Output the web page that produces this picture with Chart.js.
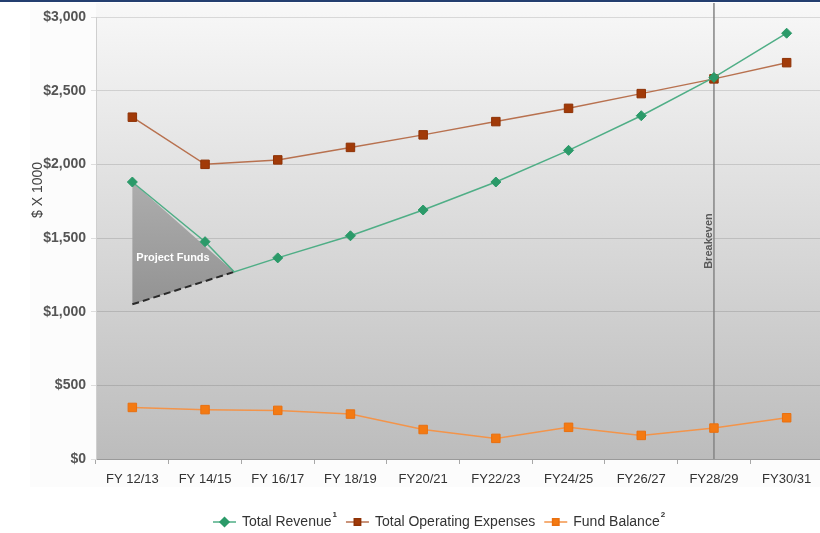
<!DOCTYPE html>
<html>
<head>
<meta charset="utf-8">
<script src="https://cdn.jsdelivr.net/npm/chart.js@4.4.1/dist/chart.umd.min.js"></script>
<style>
html, body { margin: 0; padding: 0; background: #fff; overflow: hidden; }
#wrap { width: 830px; height: 533px; }
</style>
</head>
<body>
<div id="wrap"><canvas id="fundChart" width="830" height="533"></canvas></div>
<script>
const categories = ["FY 12/13", "FY 14/15", "FY 16/17", "FY 18/19", "FY20/21", "FY22/23", "FY24/25", "FY26/27", "FY28/29", "FY30/31"];
const revenue = [1880, 1475, 1365, 1515, 1690, 1880, 2095, 2330, 2590, 2890];
const expenses = [2320, 2000, 2030, 2115, 2200, 2290, 2380, 2480, 2580, 2690];
const fundBalance = [350, 335, 330, 305, 200, 140, 215, 160, 210, 280];
const projectFundsX = [0, 1.4, 0];
const projectFundsY = [1880, 1270, 1050];
const breakevenIndex = 8;
const yTicks = [0, 500, 1000, 1500, 2000, 2500, 3000];
const legendSup = ["1", "", "2"];

Chart.defaults.font.family = "'Liberation Sans', Arial, sans-serif";

// revenue line bends at the tip of the project funds triangle
const revenuePoints = categories.map((c, i) => ({ x: i, y: revenue[i] }));
revenuePoints.splice(2, 0, { x: projectFundsX[1], y: projectFundsY[1], apex: true });

const decorations = {
    id: "decorations",
    beforeDraw(chart) {
        const { ctx, chartArea } = chart;
        ctx.save();
        ctx.fillStyle = "#ffffff";
        ctx.fillRect(0, 0, chart.width, chart.height);
        ctx.fillStyle = "#fcfcfc";
        ctx.fillRect(30, 3, chart.width - 30, 484);
        const g = ctx.createLinearGradient(0, 3, 0, chartArea.bottom);
        g.addColorStop(0, "#f8f8f8");
        g.addColorStop(1, "#bcbcbc");
        ctx.fillStyle = g;
        ctx.fillRect(chartArea.left, 3, chart.width - chartArea.left, chartArea.bottom - 3);
        ctx.restore();
    },
    beforeDatasetsDraw(chart) {
        const { ctx, chartArea } = chart;
        const xs = chart.scales.xv, ys = chart.scales.y;
        ctx.save();

        // breakeven marker
        const bx = xs.getPixelForValue(breakevenIndex);
        ctx.strokeStyle = "#858585";
        ctx.lineWidth = 1.5;
        ctx.beginPath();
        ctx.moveTo(bx, 3);
        ctx.lineTo(bx, chartArea.bottom);
        ctx.stroke();
        ctx.translate(bx - 5, (chartArea.top + chartArea.bottom) / 2 + 3);
        ctx.rotate(-Math.PI / 2);
        ctx.fillStyle = "#5a5a5a";
        ctx.font = "bold 11px 'Liberation Sans', Arial";
        ctx.textAlign = "center";
        ctx.textBaseline = "middle";
        ctx.fillText("Breakeven", 0, 0);
        ctx.restore();

        // project funds triangle
        const pts = projectFundsX.map((v, i) => [xs.getPixelForValue(v), ys.getPixelForValue(projectFundsY[i])]);
        ctx.save();
        const tg = ctx.createLinearGradient(0, pts[0][1], 0, pts[2][1]);
        tg.addColorStop(0, "#adadad");
        tg.addColorStop(1, "#939393");
        ctx.fillStyle = tg;
        ctx.beginPath();
        ctx.moveTo(pts[0][0], pts[0][1]);
        ctx.lineTo(pts[1][0], pts[1][1]);
        ctx.lineTo(pts[2][0], pts[2][1]);
        ctx.closePath();
        ctx.fill();
        ctx.setLineDash([7, 4]);
        ctx.strokeStyle = "#2a2a2a";
        ctx.lineWidth = 2;
        ctx.beginPath();
        ctx.moveTo(pts[2][0], pts[2][1]);
        ctx.lineTo(pts[1][0], pts[1][1]);
        ctx.stroke();
        ctx.fillStyle = "#ffffff";
        ctx.font = "bold 11px 'Liberation Sans', Arial";
        ctx.textBaseline = "middle";
        ctx.fillText("Project Funds", pts[0][0] + 4, pts[0][1] + 0.62 * (pts[2][1] - pts[0][1]));
        ctx.restore();
    },
    afterDraw(chart) {
        const { ctx } = chart;
        ctx.save();

        // frame line on top
        ctx.fillStyle = "#243f70";
        ctx.fillRect(0, 0, chart.width, 2);

        // axis title
        ctx.save();
        ctx.translate(38, 190);
        ctx.rotate(-Math.PI / 2);
        ctx.fillStyle = "#444";
        ctx.font = "14px 'Liberation Sans', Arial";
        ctx.textAlign = "center";
        ctx.textBaseline = "middle";
        ctx.fillText("$ X 1000", 0, 0);
        ctx.restore();

        // legend: line + marker, label, superscript
        let x = 213;
        const y = 522;
        ctx.textBaseline = "middle";
        chart.data.datasets.forEach((ds, i) => {
            ctx.strokeStyle = ds.borderColor;
            ctx.lineWidth = 1.5;
            ctx.beginPath();
            ctx.moveTo(x, y);
            ctx.lineTo(x + 23, y);
            ctx.stroke();
            ctx.fillStyle = ds.pointBackgroundColor;
            ctx.strokeStyle = ds.pointBorderColor;
            Chart.helpers.drawPoint(ctx, { pointStyle: ds.pointStyle, radius: 4.5, borderWidth: 1 }, x + 11.5, y);
            x += 29;
            ctx.fillStyle = "#333";
            ctx.font = "14px 'Liberation Sans', Arial";
            ctx.fillText(ds.label, x, y);
            x += ctx.measureText(ds.label).width;
            if (legendSup[i]) {
                ctx.font = "bold 8px 'Liberation Sans', Arial";
                ctx.fillText(legendSup[i], x + 1, y - 7);
                x += ctx.measureText(legendSup[i]).width + 1;
            }
            x += 9;
        });
        ctx.restore();
    }
};

new Chart(document.getElementById("fundChart"), {
    type: "line",
    data: {
        labels: categories,
        datasets: [{
            label: "Total Revenue",
            data: revenuePoints,
            xAxisID: "xv",
            borderColor: "#4fae86",
            borderWidth: 1.5,
            pointStyle: "rectRot",
            pointBackgroundColor: "#2b9a69",
            pointBorderColor: "#2b9a69",
            pointBorderWidth: 1,
            pointRadius: ctx => (ctx.raw && ctx.raw.apex ? 0 : 5),
            tension: 0
        }, {
            label: "Total Operating Expenses",
            data: expenses.map((v, i) => ({ x: i, y: v })),
            xAxisID: "xv",
            borderColor: "#b8714f",
            borderWidth: 1.5,
            pointStyle: "rect",
            pointBackgroundColor: "#a13a08",
            pointBorderColor: "#8e3206",
            pointBorderWidth: 1,
            pointRadius: 6,
            tension: 0
        }, {
            label: "Fund Balance",
            data: fundBalance.map((v, i) => ({ x: i, y: v })),
            xAxisID: "xv",
            borderColor: "#f3944a",
            borderWidth: 1.5,
            pointStyle: "rect",
            pointBackgroundColor: "#f47a12",
            pointBorderColor: "#e97010",
            pointBorderWidth: 1,
            pointRadius: 6,
            tension: 0
        }]
    },
    options: {
        responsive: false,
        animation: false,
        layout: { padding: { top: 17, right: 5, left: 0, bottom: 0 } },
        plugins: {
            legend: { display: false },
            tooltip: { enabled: false }
        },
        scales: {
            x: {
                type: "category",
                labels: categories,
                offset: true,
                grid: { offset: true, drawOnChartArea: false, drawTicks: true, tickLength: 5, color: "#a8a8a8" },
                border: { display: true, color: "#9a9a9a" },
                ticks: { color: "#333", font: { size: 13 }, padding: 8, maxRotation: 0, autoSkip: false },
                afterFit: s => { s.height = 74; }
            },
            xv: {
                type: "linear",
                display: false,
                min: -0.5,
                max: 9.5
            },
            y: {
                min: yTicks[0],
                max: yTicks[yTicks.length - 1],
                afterBuildTicks: s => { s.ticks = yTicks.map(v => ({ value: v })); },
                ticks: {
                    callback: v => "$" + v.toLocaleString("en-US"),
                    color: "#555",
                    font: { size: 14, weight: "bold" },
                    padding: 5
                },
                grid: { color: "rgba(0,0,0,0.12)", tickLength: 5 },
                border: { color: "#cfcfcf" },
                afterFit: s => { s.width = 96; }
            }
        }
    },
    plugins: [decorations]
});
</script>
</body>
</html>
